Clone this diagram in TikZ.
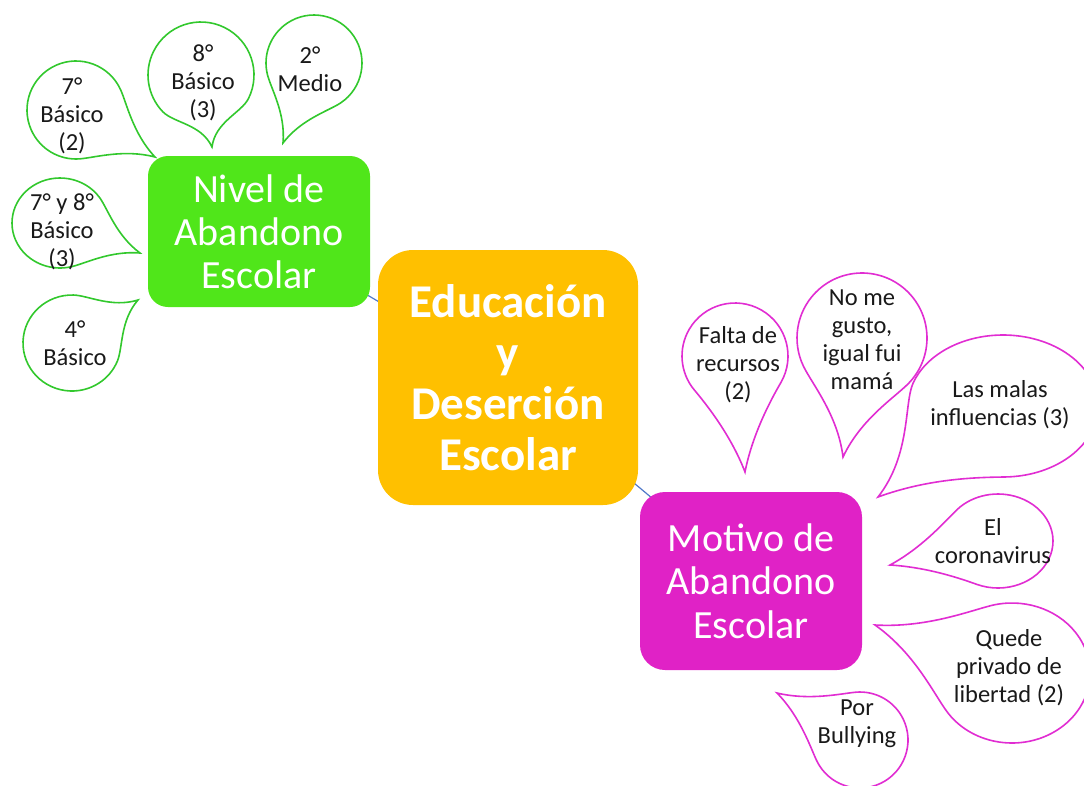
\documentclass[tikz,border=0pt]{standalone}
\usepackage{fontspec}
\setmainfont{Carlito}
\usetikzlibrary{calc,backgrounds}
\definecolor{verde}{RGB}{80,230,26}
\definecolor{naranja}{RGB}{255,192,0}
\definecolor{magenta2}{RGB}{224,34,198}
\definecolor{lineaverde}{RGB}{50,200,45}
\definecolor{lineamag}{RGB}{225,45,210}
\definecolor{enlace}{RGB}{80,120,200}
\newcommand\bubble[7]{%
  \pgfmathsetmacro\bang{atan2((#7)-(#3),(#6)-(#2))}%
  \pgfmathsetmacro\btail{0.35*veclen((#6)-(#2),(#7)-(#3))}%
  \draw[#1] (#6,#7)
    .. controls ($(#6,#7)+(\bang+164:\btail)$) and ($(#2,#3)+(\bang+55:#4 and #5)+(\bang-35:0.3*#4 and 0.3*#5)$)
    .. ($(#2,#3)+(\bang+55:#4 and #5)$)
    arc[start angle=\bang+55, delta angle=250, x radius=#4, y radius=#5]
    .. controls ($(#2,#3)+(\bang-55:#4 and #5)+(\bang+35:0.3*#4 and 0.3*#5)$) and ($(#6,#7)+(\bang+196:\btail)$)
    .. (#6,#7) -- cycle;}
\begin{document}
\begin{tikzpicture}[x=1pt,y=1pt,
    tema/.style={inner sep=0pt, text=white, align=center},
    gota/.style={fill=white, line width=1.6pt},
    gtext/.style={inner sep=0pt, align=center, text=black!90, font=\fontsize{24.5}{28}\selectfont},
    link/.style={draw=enlace, line width=1.2pt}]
        \useasboundingbox (0,0) rectangle (1084,-785);

        \node(centro) at (508,-377.5) [tema, fill=naranja, minimum width=260pt, minimum height=255pt, rounded corners=35pt, font=\fontsize{47}{51}\selectfont\bfseries] {Educación\\y\\Deserción\\Escolar};
        \node(nivel) at (259,-231.5) [tema, fill=verde, minimum width=222pt, minimum height=151pt, rounded corners=20pt, font=\fontsize{40}{43}\selectfont] {Nivel de\\Abandono\\Escolar};
        \node(motivo) at (751,-581) [tema, fill=magenta2, minimum width=222pt, minimum height=178pt, rounded corners=25pt, font=\fontsize{40}{43.5}\selectfont] {Motivo de\\Abandono\\Escolar};

        \begin{scope}[on background layer]
        \draw[link] (nivel.center) -- (centro.center);
        \draw[link] (centro.center) -- (motivo.center);
        \end{scope}

        \bubble{gota, draw=lineaverde}{76}{-110}{49}{49}{155}{-157}
        \bubble{gota, draw=lineaverde}{201}{-75}{53}{53}{212}{-147}
        \bubble{gota, draw=lineaverde}{314}{-63}{48}{48}{283}{-143}
        \bubble{gota, draw=lineaverde}{60}{-223}{48}{45}{140}{-253}
        \bubble{gota, draw=lineaverde}{72}{-343}{49}{48}{138}{-300}

        \bubble{gota, draw=lineamag}{735}{-356}{53}{53}{745}{-472}
        \bubble{gota, draw=lineamag}{862}{-338}{65}{65}{843}{-457}
        \bubble{gota, draw=lineamag}{1003}{-406}{95}{71}{878}{-497}
        \bubble{gota, draw=lineamag}{998}{-541}{55}{47}{890}{-565}
        \bubble{gota, draw=lineamag}{1012}{-673}{78}{70}{875}{-625}
        \bubble{gota, draw=lineamag}{860}{-740}{48}{48}{777}{-693}

        \node(g1) at (72,-116) [gtext] {7°\\Básico\\(2)};
        \node(g2) at (203,-83) [gtext] {8°\\Básico\\(3)};
        \node(g3) at (310,-69) [gtext] {2°\\Medio};
        \node(g4) at (62,-232) [gtext] {7° y 8°\\Básico\\(3)};
        \node(g5) at (75,-343.5) [gtext] {4°\\Básico};

        \node(m1) at (738,-365) [gtext] {Falta de\\recursos\\(2)};
        \node(m2) at (862,-340) [gtext] {No me\\gusto,\\igual fui\\mamá};
        \node(m3) at (1000,-405) [gtext] {Las malas\\influencias (3)};
        \node(m4) at (993,-541) [gtext] {El\\coronavirus};
        \node(m5) at (1009,-668) [gtext] {Quede\\privado de\\libertad (2)};
        \node(m6) at (857,-723.5) [gtext] {Por\\Bullying};

    \end{tikzpicture}
\end{document}
